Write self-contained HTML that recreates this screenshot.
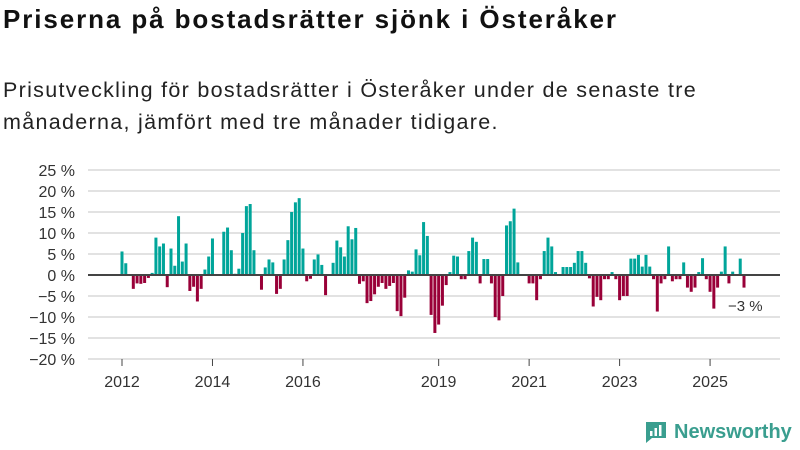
<!DOCTYPE html>
<html><head><meta charset="utf-8"><style>
body{margin:0;width:800px;height:450px;background:#fff;font-family:"Liberation Sans","DejaVu Sans",sans-serif;overflow:hidden;position:relative}
h1{position:absolute;left:3px;top:4px;margin:0;font-size:26px;letter-spacing:1.9px;font-weight:bold;color:#111}
.sub{position:absolute;left:3px;top:74px;margin:0;font-size:21.5px;letter-spacing:1.3px;line-height:32px;color:#222;width:797px;white-space:nowrap}
svg{position:absolute;left:0;top:0}
</style></head><body>
<h1>Priserna på bostadsrätter sjönk i Österåker</h1>
<p class="sub">Prisutveckling för bostadsrätter i Österåker under de senaste tre<br>månaderna, jämfört med tre månader tidigare.</p>
<svg id="c" width="800" height="450"></svg>
<script>
const values=[5.6,2.8,0,-3.3,-2,-2.1,-1.9,-0.7,0.5,8.9,6.8,7.5,-2.9,6.3,2.2,14,3.2,7.5,-3.8,-2.8,-6.3,-3.3,1.3,4.4,8.7,0,0,10.3,11.3,5.9,0.3,1.5,10,16.4,16.9,5.9,0,-3.5,1.8,3.7,3,-4.5,
-3.3,3.7,8.3,15,17.3,18.3,6.3,-1.5,-0.9,3.7,4.9,2.4,-4.8,0.2,2.9,8.2,6.6,4.4,11.6,8.5,11.2,-2.1,-1.5,-6.7,-6.2,-4.6,-2.8,-1.9,-3.3,-2.6,-1.9,-8.6,-9.8,-5.4,1.1,0.8,6.1,4.7,12.6,9.3,-9.5,-13.8,
-11.8,-7.3,-2.4,0.7,4.6,4.4,-1,-1,5.7,8.9,7.9,-2,3.8,3.8,-2,-10,-10.8,-5,11.8,12.8,15.8,3,0,0,-2,-2,-6,-1,5.7,8.9,6.8,0.7,0,1.9,1.9,1.9,2.9,5.7,5.7,2.9,-0.8,-7.5,-5.2,
-6,-1,-1,0.7,-1,-6,-5,-5,3.9,3.9,4.8,2,4.8,2,-1,-8.7,-2,-1,6.8,-1.5,-1,-1,3,-3,-4,-3,0.7,4,-1,-4,-8,-3,0.8,6.8,-2,0.8,0,3.9,-3];
const yTicks=[25,20,15,10,5,0,-5,-10,-15,-20];
const xYears=[2012,2014,2016,2019,2021,2023,2025];
const startYear=2012;
const lastLabel="−3 %";
const svg=document.getElementById('c');const NS='http://www.w3.org/2000/svg';
const y=v=>275-v*4.2;
const x=i=>122+i*(622/165);
function mk(t,a){const e=document.createElementNS(NS,t);for(const k in a)e.setAttribute(k,a[k]);svg.appendChild(e);return e;}
yTicks.forEach(t=>{
 if(t!==0){const g=mk('line',{x1:88,x2:780,y1:y(t),y2:y(t),stroke:'#e2e2e2','stroke-width':2});
 
 }
 const l=mk('text',{x:75,y:y(t)+6,'text-anchor':'end','font-size':16,fill:'#333'});l.textContent=(t<0?'−'+(-t):t)+' %';
 
 
});
values.forEach((v,i)=>{
 const r=mk('rect',{x:x(i)-1.5,width:3,y:Math.min(y(v),y(0)),height:Math.abs(y(v)-y(0)),fill:v>=0?'#00a59a':'#990038'});
 
 
});
const z=mk('line',{x1:88,x2:780,y1:275,y2:275,stroke:'#444','stroke-width':2});


xYears.forEach(yr=>{const xi=x((yr-startYear)*12);
 const tk=mk('line',{x1:xi,x2:xi,y1:359,y2:366,stroke:'#444','stroke-width':1});
 
 
 const l=mk('text',{x:xi,y:387,'text-anchor':'middle','font-size':16,fill:'#333'});l.textContent=yr;
 
 
});
const ll=mk('text',{x:x(values.length-1)-16,y:311,'font-size':15,fill:'#333'});ll.textContent=lastLabel;


</script>
<div style="position:absolute;left:644px;top:420px;display:flex;align-items:center">
<svg width="24" height="24" style="position:static"><path d="M2 2h20v16H8l-6 5z" fill="#3a9e8f"/><rect x="6" y="11" width="2.5" height="5" fill="#fff"/><rect x="10.5" y="8" width="2.5" height="8" fill="#fff"/><rect x="15" y="5" width="2.5" height="11" fill="#fff"/></svg>
<span style="font-size:20px;font-weight:bold;color:#3a9e8f;margin-left:6px">Newsworthy</span></div>
</body></html>
